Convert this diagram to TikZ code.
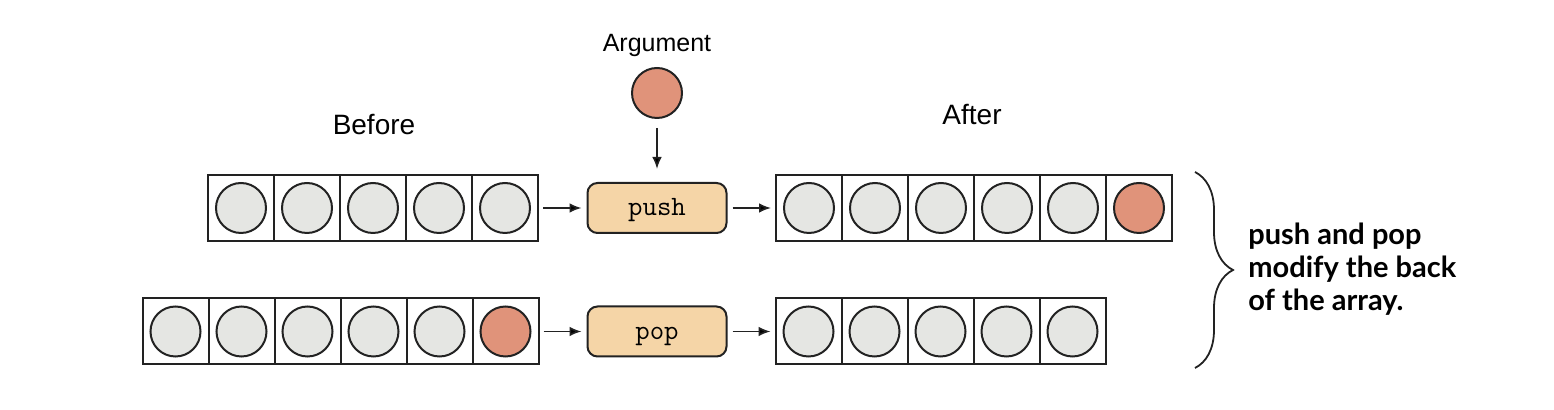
\documentclass[tikz,border=0pt]{standalone}
\usepackage{fontspec}
\setmainfont{Liberation Sans}
\setsansfont{Lato}
\usepackage{tikz}
\usetikzlibrary{shapes, arrows, arrows.meta, positioning, decorations.pathreplacing}
\definecolor{cellgray}{HTML}{E5E6E3}
\definecolor{argred}{HTML}{E0937A}
\definecolor{opfill}{HTML}{F5D5A7}
\definecolor{ink}{HTML}{222222}

\begin{document}
\begin{tikzpicture}[x=0.5pt, y=-0.5pt, >={Latex[length=6pt,width=4.8pt]},
  cell/.style={rectangle, draw=ink, line width=1pt, minimum size=33pt, outer sep=0pt, inner sep=0pt},
  ball/.style={circle, draw=ink, line width=1pt, fill=cellgray, minimum size=25pt, inner sep=0pt},
  opbox/.style={rectangle, rounded corners=5pt, draw=ink, line width=1pt, fill=opfill, minimum width=69.5pt, minimum height=25pt, text height=11pt, text depth=3pt, font=\ttfamily\fontsize{14}{16}\selectfont},
  flow/.style={->, draw=ink, line width=0.8pt, shorten <=2.5pt, shorten >=2.5pt}]
  \useasboundingbox (0,0) rectangle (1554,410);

  % before rows
\node[cell] (bt1) at (241,208) {};
\foreach \i [count=\j from 2] in {1,...,4} \node[cell, right=0pt of bt\i] (bt\j) {};
\node[cell] (bb1) at (175.5,331.5) {};
\foreach \i [count=\j from 2] in {1,...,5} \node[cell, right=0pt of bb\i] (bb\j) {};
  % after rows
\node[cell] (at1) at (809,208) {};
\foreach \i [count=\j from 2] in {1,...,5} \node[cell, right=0pt of at\i] (at\j) {};
\node[cell] (ab1) at (808.5,331.5) {};
\foreach \i [count=\j from 2] in {1,...,4} \node[cell, right=0pt of ab\i] (ab\j) {};

\foreach \i in {1,...,5} \node[ball] (ballbt\i) at (bt\i) {};
\foreach \i in {1,...,5} \node[ball] (ballbb\i) at (bb\i) {};
\node[ball, fill=argred] (ballbb6) at (bb6) {};
\foreach \i in {1,...,5} \node[ball] (ballat\i) at (at\i) {};
\node[ball, fill=argred] (ballat6) at (at6) {};
\foreach \i in {1,...,5} \node[ball] (ballab\i) at (ab\i) {};

  % operations
\node[opbox] (push) at (657,208) {push};
\node[opbox] (pop) at (657,331.5) {pop};
\node[ball, fill=argred] (arg) at (657,93) {};
\node[anchor=base, font=\fontsize{12.5}{14}\selectfont] (argtitle) at (657,52) {Argument};
\node[anchor=base, font=\fontsize{14}{16}\selectfont] (before) at (374,135) {Before};
\node[anchor=base, font=\fontsize{14}{16}\selectfont] (after) at (972,125) {After};

\path[flow]
	(bt5) edge (push)
	(push) edge (at1)
	(bb6) edge (pop)
	(pop) edge (ab1)
	(arg) edge[shorten <=4.5pt, shorten >=6.5pt] (push)
;

\coordinate (bracetop) at (1195,172);
\coordinate (bracebot) at (1195,368);
\draw[ink, line width=0.9pt, decorate, decoration={brace, amplitude=19pt}] (bracetop) -- (bracebot);
\node[anchor=base west, align=left, inner sep=0pt, font=\sffamily\bfseries\fontsize{14.5}{16.5}\selectfont] (note) at (1248,311) {push and pop\\modify the back\\of the array.};
\end{tikzpicture}
\end{document}
